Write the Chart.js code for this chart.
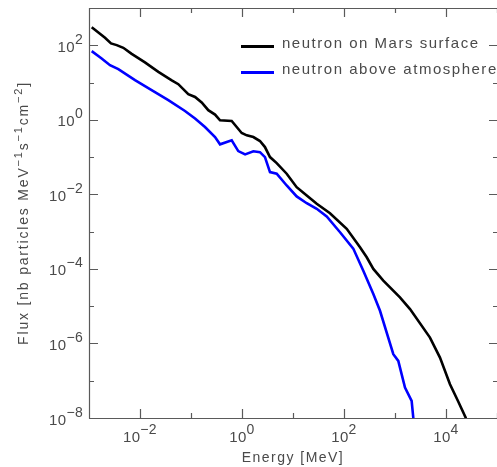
<!DOCTYPE html>
<html>
<head>
<meta charset="utf-8">
<script src="https://cdn.jsdelivr.net/npm/chart.js@4.4.1/dist/chart.umd.min.js"></script>
<style>
html,body{margin:0;padding:0;background:#fff;}
#wrap{width:497px;height:467px;position:relative;overflow:hidden;}
</style>
</head>
<body>
<div id="wrap"><canvas id="c" width="497" height="467"></canvas></div>
<script>
// ---- data ----
const seriesNames = ['neutron on Mars surface', 'neutron above atmosphere'];

const energySurface = [1.13e-3, 2.06e-3, 2.70e-3, 3.49e-3, 4.71e-3, 6.87e-3, 1.25e-2, 2.29e-2, 4.19e-2, 5.64e-2,
  8.85e-2, 0.120, 0.162, 0.218, 0.296, 0.371, 0.628, 0.787, 0.986, 1.24,
  1.67, 2.25, 2.82, 3.54, 4.79, 7.52, 11.8, 18.6, 29.2, 53.1,
  113, 206, 279, 376, 590, 1250, 1970, 4850, 7620, 11970, 17180, 24660];
const fluxSurface = [303, 159, 112, 101, 85.5, 59.0, 34.7, 19.4, 11.4, 9.04,
  4.86, 4.11, 2.91, 1.81, 1.38, 0.973, 0.931, 0.641, 0.443, 0.384,
  0.345, 0.270, 0.186, 0.100, 0.0690, 0.0358, 0.0156, 9.33e-3, 5.58e-3, 3.12e-3,
  1.19e-3, 3.80e-4, 2.05e-4, 9.98e-5, 4.83e-5, 1.72e-5, 8.38e-6, 1.44e-6, 4.18e-7, 8.05e-8, 2.86e-8, 9.8e-9];

const energyAbove = [1.13e-3, 1.77e-3, 2.58e-3, 3.76e-3, 7.98e-3, 1.69e-2, 3.59e-2, 7.62e-2, 0.120, 0.188,
  0.296, 0.371, 0.628, 0.845, 1.15, 1.67, 2.25, 2.82, 3.54, 4.79,
  7.52, 11.8, 18.6, 29.2, 45.8, 83.6, 152, 239, 376, 508,
  927, 1160, 1570, 2120, 2290];
const fluxAbove = [69.7, 44.4, 29.3, 22.9, 11.6, 6.24, 3.36, 1.73, 1.08, 0.641,
  0.345, 0.220, 0.282, 0.145, 0.118, 0.143, 0.136, 0.100, 0.0395, 0.0358,
  0.0173, 8.79e-3, 5.79e-3, 4.10e-3, 2.55e-3, 9.62e-4, 3.51e-4, 8.97e-5, 2.12e-5, 7.53e-6,
  5.16e-7, 3.41e-7, 6.52e-8, 2.86e-8, 9.8e-9];

// axis ticks
const xDecades = [1e-3, 1e-2, 1e-1, 1, 1e1, 1e2, 1e3, 1e4, 1e5];
const xTickValues = [1e-2, 1, 1e2, 1e4];
const xTickExponents = ['\u22122', '0', '2', '4'];
const yDecades = [1e-8, 1e-7, 1e-6, 1e-5, 1e-4, 1e-3, 1e-2, 1e-1, 1, 1e1, 1e2, 1e3];
const yTickValues = [1e-8, 1e-6, 1e-4, 1e-2, 1, 1e2];
const yTickExponents = ['\u22128', '\u22126', '\u22124', '\u22122', '0', '2'];

// ---- styling ----
const FONT = '"Liberation Sans", Arial, sans-serif';
const AXIS_COLOR = '#5a5a5a';
const TEXT_COLOR = '#4a4a4a';

function runsWidth(ctx, runs, ls) {
  let w = 0;
  for (const r of runs) {
    ctx.font = r.size + 'px ' + FONT;
    if ('letterSpacing' in ctx) ctx.letterSpacing = '0px';
    w += ctx.measureText(r.t).width + [...r.t].length * ls;
  }
  return w;
}
function spacingFor(ctx, runs, target) {
  if (!('letterSpacing' in ctx)) return 0;
  const w0 = runsWidth(ctx, runs, 0);
  const n = runs.reduce((a, r) => a + [...r.t].length, 0);
  return Math.max(0, (target - w0) / Math.max(1, n - 1));
}
function drawRuns(ctx, runs, x, y, ls) {
  let cx = x;
  for (const r of runs) {
    ctx.font = r.size + 'px ' + FONT;
    if ('letterSpacing' in ctx) ctx.letterSpacing = ls + 'px';
    ctx.fillText(r.t, cx, y - (r.rise || 0));
    if ('letterSpacing' in ctx) ctx.letterSpacing = '0px';
    cx += ctx.measureText(r.t).width + [...r.t].length * ls;
  }
  return cx;
}

const framePlugin = {
  id: 'frame',
  beforeDatasetsDraw(chart) {
    const { ctx, chartArea: { left, right, top, bottom }, scales: { x, y } } = chart;
    ctx.save();
    ctx.strokeStyle = AXIS_COLOR;
    ctx.lineWidth = 1.2;
    ctx.beginPath();
    ctx.moveTo(left + 0.5, top + 0.5); ctx.lineTo(right + 1.5, top + 0.5);
    ctx.moveTo(left + 0.5, top + 0.5); ctx.lineTo(left + 0.5, bottom + 0.5);
    ctx.moveTo(left + 0.5, bottom + 0.5); ctx.lineTo(right + 1.5, bottom + 0.5);
    ctx.moveTo(right + 1.5, top + 0.5); ctx.lineTo(right + 1.5, bottom + 0.5);
    // x ticks (bottom and top, pointing inward)
    for (const v of xDecades) {
      const px = Math.round(x.getPixelForValue(v)) + 0.5;
      const len = xTickValues.includes(v) ? 9 : 5;
      ctx.moveTo(px, bottom); ctx.lineTo(px, bottom - len);
      ctx.moveTo(px, top); ctx.lineTo(px, top + len);
    }
    // y ticks (left and right, pointing inward)
    for (const v of yDecades) {
      const py = Math.round(y.getPixelForValue(v)) + 0.5;
      const len = yTickValues.includes(v) ? 9 : 5;
      ctx.moveTo(left, py); ctx.lineTo(left + len, py);
      ctx.moveTo(right + 1, py); ctx.lineTo(right + 1 - len, py);
    }
    ctx.stroke();
    ctx.restore();
  },
  afterDraw(chart) {
    const { ctx, chartArea: { left, right, top, bottom }, scales: { x, y } } = chart;
    ctx.save();
    ctx.fillStyle = TEXT_COLOR;
    ctx.textBaseline = 'alphabetic';
    ctx.textAlign = 'left';

    const baseSize = 15, expSize = 14, rise = 8;
    const lsTick = spacingFor(ctx, [{ t: '10', size: baseSize }], 17);

    // x tick labels
    xTickValues.forEach((v, i) => {
      const runs = [{ t: '10', size: baseSize }, { t: xTickExponents[i], size: expSize, rise: rise }];
      const w = runsWidth(ctx, runs, lsTick);
      const px = x.getPixelForValue(v);
      drawRuns(ctx, runs, px - w / 2, 442, lsTick);
    });
    // y tick labels
    yTickValues.forEach((v, i) => {
      const runs = [{ t: '10', size: baseSize }, { t: yTickExponents[i], size: expSize, rise: rise }];
      const w = runsWidth(ctx, runs, lsTick);
      const py = y.getPixelForValue(v);
      drawRuns(ctx, runs, left - 6 - w, py + 6.5, lsTick);
    });

    // x title
    const xt = [{ t: 'Energy [MeV]', size: 14 }];
    const lsX = spacingFor(ctx, xt, 101);
    const wx = runsWidth(ctx, xt, lsX);
    drawRuns(ctx, xt, (left + right) / 2 - wx / 2, 462, lsX);

    // y title (rotated)
    const yt = [
      { t: 'Flux [nb particles MeV', size: 14 },
      { t: '\u22121', size: 11, rise: 6 },
      { t: 's', size: 14 },
      { t: '\u22121', size: 11, rise: 6 },
      { t: 'cm', size: 14 },
      { t: '\u22122', size: 11, rise: 6 },
      { t: ']', size: 14 }
    ];
    const lsY = spacingFor(ctx, yt, 262);
    const wy = runsWidth(ctx, yt, lsY);
    ctx.save();
    ctx.translate(28, (top + bottom) / 2);
    ctx.rotate(-Math.PI / 2);
    drawRuns(ctx, yt, -wy / 2, 0, lsY);
    ctx.restore();

    // legend
    const colors = ['#000000', '#0000ff'];
    const lsL = spacingFor(ctx, [{ t: seriesNames[0], size: 15 }], 196);
    const rows = [47, 73];
    seriesNames.forEach((name, i) => {
      ctx.strokeStyle = colors[i];
      ctx.lineWidth = 3;
      ctx.beginPath();
      ctx.moveTo(241, rows[i] - 0.5);
      ctx.lineTo(274, rows[i] - 0.5);
      ctx.stroke();
      ctx.fillStyle = TEXT_COLOR;
      drawRuns(ctx, [{ t: name, size: 15 }], 282, rows[i] + 0.5, lsL);
    });
    ctx.restore();
  }
};

new Chart(document.getElementById('c'), {
  type: 'line',
  data: {
    datasets: [
      {
        label: seriesNames[0],
        data: energySurface.map((e, i) => ({ x: e, y: fluxSurface[i] })),
        borderColor: '#000000',
        borderWidth: 2.6,
        pointRadius: 0,
        tension: 0,
        fill: false
      },
      {
        label: seriesNames[1],
        data: energyAbove.map((e, i) => ({ x: e, y: fluxAbove[i] })),
        borderColor: '#0000ff',
        borderWidth: 2.6,
        pointRadius: 0,
        tension: 0,
        fill: false
      }
    ]
  },
  options: {
    responsive: false,
    devicePixelRatio: 1,
    animation: false,
    layout: { padding: { left: 89, right: 0, top: 8, bottom: 49 } },
    scales: {
      x: { type: 'logarithmic', min: 1e-3, max: 1e5, display: false },
      y: { type: 'logarithmic', min: 1e-8, max: 1e3, display: false }
    },
    plugins: {
      legend: { display: false },
      tooltip: { enabled: false }
    }
  },
  plugins: [framePlugin]
});
</script>
</body>
</html>
